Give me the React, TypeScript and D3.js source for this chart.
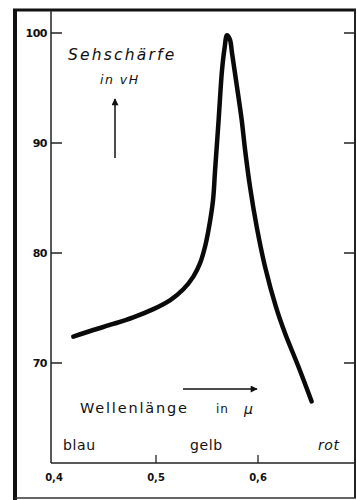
import React from "react";
import * as d3 from "d3";

// wavelength in micrometres vs visual acuity (percent)
const wavelengths = [0.4189, 0.4385, 0.4581, 0.4777, 0.4974, 0.5137, 0.5268, 0.5366, 0.5431, 0.548, 0.5515, 0.5559, 0.5579, 0.5614, 0.5647, 0.5672, 0.5696, 0.5725, 0.5745, 0.5794, 0.584, 0.5873, 0.5922, 0.5987, 0.6069, 0.6176, 0.6265, 0.6395, 0.6526];
const acuity = [72.4, 73.0, 73.55, 74.15, 74.9, 75.7, 76.7, 77.85, 79.05, 80.55, 82.1, 84.8, 87.5, 92.1, 96.6, 98.6, 99.8, 99.4, 98.2, 95.1, 92.1, 89.4, 86.0, 82.4, 78.75, 75.1, 72.7, 69.7, 66.5];
const yTicks = [70, 80, 90, 100];
const xTicks = [0.4, 0.5, 0.6];
const xTickLabels = ["0,4", "0,5", "0,6"];
const colorNames = ["blau", "gelb", "rot"];

const W = 357;
const H = 500;
const FONT = "'DejaVu Sans', sans-serif";

export default function App() {
  const x = d3.scaleLinear().domain([0.4, 0.6]).range([54, 258]);
  const y = d3.scaleLinear().domain([70, 100]).range([363, 33]);

  const pts = wavelengths.map((w, i) => [w, acuity[i]] as [number, number]);
  const line = d3
    .line<[number, number]>()
    .x((d) => x(d[0]))
    .y((d) => y(d[1]))
    .curve(d3.curveCatmullRom.alpha(0.5));

  const axisX = 51;
  const axisY = 463;

  return (
    <svg
      width={W}
      height={H}
      style={{ position: "absolute", left: 0, top: 0, background: "#fff" }}
      fontFamily={FONT}
    >
      <defs>
        <marker id="arr" viewBox="0 0 10 10" refX="9" refY="5" markerWidth="9" markerHeight="7" orient="auto-start-reverse" markerUnits="userSpaceOnUse">
          <path d="M0,0 L10,5 L0,10 z" fill="#111" />
        </marker>
      </defs>

      {/* frame */}
      <line x1={15} y1={9} x2={15} y2={500} stroke="#111" strokeWidth={4} />
      <line x1={13} y1={10} x2={356} y2={10} stroke="#111" strokeWidth={3} />
      <line x1={355} y1={9} x2={355} y2={498} stroke="#222" strokeWidth={2} />
      <line x1={15} y1={498} x2={356} y2={498} stroke="#333" strokeWidth={1.3} />

      {/* axes */}
      <line x1={axisX} y1={10} x2={axisX} y2={axisY} stroke="#222" strokeWidth={1.5} />
      <line x1={axisX} y1={axisY} x2={355} y2={axisY} stroke="#222" strokeWidth={1.5} />

      {yTicks.map((t) => (
        <g key={t}>
          <line x1={axisX} y1={y(t)} x2={axisX + 11} y2={y(t)} stroke="#222" strokeWidth={1.5} />
          <line x1={344} y1={y(t)} x2={355} y2={y(t)} stroke="#222" strokeWidth={1.5} />
          <text x={47} y={y(t) + 4} textAnchor="end" fontSize={11} fontWeight="bold" fill="#111" letterSpacing={-0.5}>
            {t}
          </text>
        </g>
      ))}

      {xTicks.map((t, i) => (
        <g key={t}>
          {i > 0 && <line x1={x(t)} y1={axisY - 8} x2={x(t)} y2={axisY} stroke="#222" strokeWidth={1.3} />}
          <text x={x(t)} y={481} textAnchor="middle" fontSize={10} fontWeight="bold" fill="#111">
            {xTickLabels[i]}
          </text>
        </g>
      ))}

      {/* colour names */}
      <text x={63} y={450} fontSize={14} fill="#111" letterSpacing={0.6}>{colorNames[0]}</text>
      <text x={190} y={450} fontSize={14} fill="#111" letterSpacing={0.6}>{colorNames[1]}</text>
      <text x={318} y={450} fontSize={14} fontStyle="italic" fill="#111" letterSpacing={0.6}>{colorNames[2]}</text>

      {/* y label */}
      <text x={68} y={60} fontSize={15.5} fontStyle="italic" fill="#111" letterSpacing={2.2}>Sehschärfe</text>
      <text x={100} y={84} fontSize={12.5} fontStyle="italic" fill="#111" letterSpacing={1.5}>in vH</text>
      <line x1={115} y1={158} x2={115} y2={99} stroke="#111" strokeWidth={1.5} markerEnd="url(#arr)" />

      {/* x label */}
      <text x={80} y={413} fontSize={14.5} fill="#111" letterSpacing={1.8}>Wellenlänge</text>
      <text x={216} y={413} fontSize={12} fill="#111" letterSpacing={1}>in</text>
      <text x={244} y={414} fontSize={14} fontStyle="italic" fill="#111">μ</text>
      <line x1={183} y1={389} x2={257} y2={389} stroke="#111" strokeWidth={1.5} markerEnd="url(#arr)" />

      {/* curve */}
      <path d={line(pts) ?? ""} fill="none" stroke="#0a0a0a" strokeWidth={4.5} strokeLinecap="round" strokeLinejoin="round" />
    </svg>
  );
}
